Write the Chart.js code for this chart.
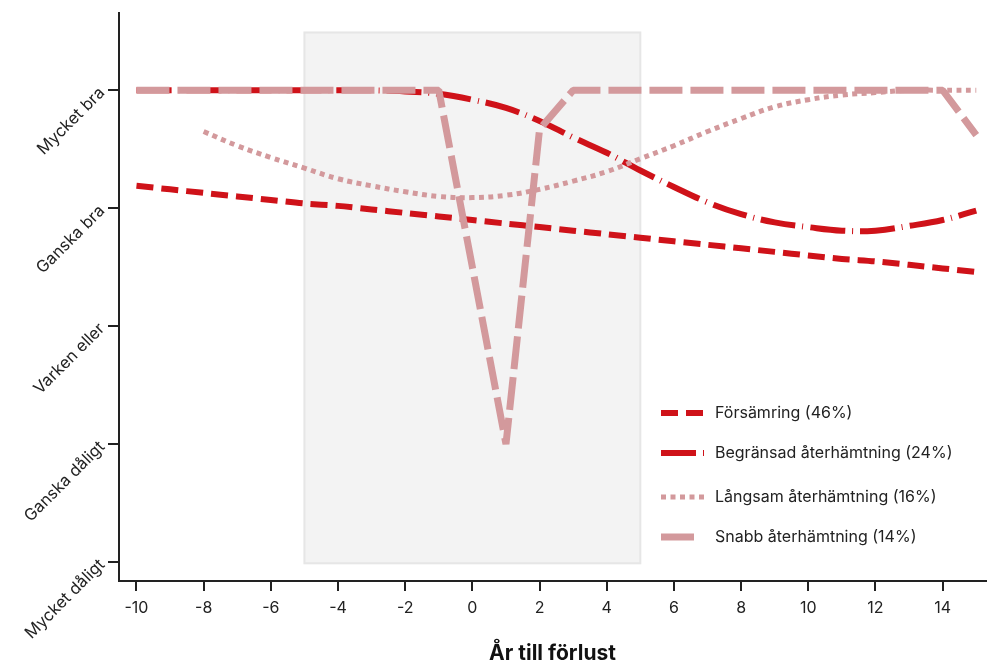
<!DOCTYPE html>
<html>
<head>
<meta charset="utf-8">
<script src="https://cdn.jsdelivr.net/npm/chart.js@4.4.1/dist/chart.umd.min.js"></script>
<style>
  body { margin: 0; background: #fff; }
  #wrap { width: 988px; height: 666px; }
</style>
</head>
<body>
<div id="wrap"><canvas id="c" width="988" height="666"></canvas></div>
<script>
  // År relativt förlusten
  const years = [-10,-9,-8,-7,-6,-5,-4,-3,-2,-1,0,1,2,3,4,5,6,7,8,9,10,11,12,13,14,15];

  const forsamring = [4.19,4.16,4.13,4.10,4.07,4.04,4.02,3.99,3.96,3.93,3.90,3.87,3.84,3.81,3.78,3.75,3.72,3.69,3.66,3.63,3.60,3.57,3.55,3.52,3.49,3.46];
  const begransad  = [5.00,5.00,5.00,5.00,5.00,5.00,5.00,5.00,4.99,4.97,4.92,4.85,4.74,4.60,4.47,4.32,4.18,4.05,3.95,3.88,3.84,3.81,3.81,3.85,3.90,3.98];
  const langsam    = [null,null,4.65,4.53,4.43,4.34,4.25,4.19,4.14,4.10,4.09,4.11,4.16,4.23,4.31,4.42,4.53,4.65,4.76,4.86,4.92,4.96,4.98,5.00,5.00,5.00];
  const snabb      = [5.00,5.00,5.00,5.00,5.00,5.00,5.00,5.00,5.00,5.00,3.50,2.00,4.67,5.00,5.00,5.00,5.00,5.00,5.00,5.00,5.00,5.00,5.00,5.00,5.00,4.62];

  const seriesNames = ['Försämring (46%)','Begränsad återhämtning (24%)','Långsam återhämtning (16%)','Snabb återhämtning (14%)'];

  const xTicks = [-10,-8,-6,-4,-2,0,2,4,6,8,10,12,14];
  const yTicks = [1,2,3,4,5];
  const yLabels = ['Mycket dåligt','Ganska dåligt','Varken eller','Ganska bra','Mycket bra'];

  const shadeYears = [-5, 5];

  const RED  = '#cf1219';
  const PINK = '#d3999c';
  const FONT = 'Inter, "Noto Sans", sans-serif';

  const pts = arr => years.map((x, i) => ({ x, y: arr[i] }));

  const shadePlugin = {
    id: 'shade',
    beforeDatasetsDraw(chart) {
      const { ctx, scales: { x, y } } = chart;
      const l = x.getPixelForValue(shadeYears[0]);
      const r = x.getPixelForValue(shadeYears[1]);
      const t = y.getPixelForValue(5.49);
      const b = y.getPixelForValue(0.99);
      ctx.save();
      ctx.fillStyle = '#f3f3f3';
      ctx.fillRect(l, t, r - l, b - t);
      ctx.strokeStyle = '#e6e6e6';
      ctx.lineWidth = 2;
      ctx.strokeRect(l, t, r - l, b - t);
      ctx.restore();
    }
  };

  // egen legend inne i diagrammet
  const legendPlugin = {
    id: 'inLegend',
    afterDraw(chart) {
      const ctx = chart.ctx;
      const rows = [413, 453, 497, 537];
      ctx.save();
      chart.data.datasets.forEach((ds, i) => {
        const y = rows[i];
        ctx.beginPath();
        ctx.strokeStyle = ds.borderColor;
        ctx.lineWidth = ds.borderWidth;
        ctx.setLineDash(ds.borderDash || []);
        ctx.moveTo(661, y);
        ctx.lineTo(i === 3 ? 696 : 704, y);
        ctx.stroke();
        ctx.setLineDash([]);
        ctx.fillStyle = '#222';
        ctx.font = '16px ' + FONT;
        ctx.textBaseline = 'middle';
        ctx.fillText(ds.label, 715, y);
      });
      ctx.restore();
    }
  };

  new Chart(document.getElementById('c'), {
    type: 'line',
    data: {
      datasets: [
        { label: seriesNames[0], data: pts(forsamring), borderColor: RED,  borderWidth: 6, borderDash: [17, 8], tension: 0.3, order: 3 },
        { label: seriesNames[1], data: pts(begransad),  borderColor: RED,  borderWidth: 6, borderDash: [35, 7, 1, 7], tension: 0.4, order: 2 },
        { label: seriesNames[2], data: pts(langsam),    borderColor: PINK, borderWidth: 5, borderDash: [5, 4.5], tension: 0.4, order: 1 },
        { label: seriesNames[3], data: pts(snabb),      borderColor: PINK, borderWidth: 7, borderDash: [33, 8], tension: 0, borderJoinStyle: 'bevel', order: 0 }
      ]
    },
    options: {
      responsive: false,
      animation: false,
      events: [],
      layout: { padding: { top: 13, right: 2, left: 0, bottom: 0 } },
      elements: { point: { radius: 0 } },
      plugins: { legend: { display: false }, tooltip: { enabled: false } },
      scales: {
        x: {
          type: 'linear',
          min: -10.52, max: 15.29,
          afterBuildTicks: s => { s.ticks = xTicks.map(v => ({ value: v })); },
          afterFit: s => { s.height = 85; },
          grid: { drawOnChartArea: false, color: '#222', lineWidth: 2, tickLength: 10 },
          border: { color: '#222', width: 2 },
          ticks: { color: '#222', padding: 8, font: { family: FONT, size: 16 }, maxRotation: 0 },
          title: { display: true, text: 'År till förlust', color: '#111', padding: 0, font: { family: FONT, size: 21, weight: 'bold' } }
        },
        y: {
          min: 0.84, max: 5.655,
          afterBuildTicks: s => { s.ticks = yTicks.map(v => ({ value: v })); },
          afterFit: s => { s.width = 119; s.paddingTop = 0; s.paddingBottom = 0; },
          grid: { drawOnChartArea: false, color: '#222', lineWidth: 2, tickLength: 11 },
          border: { color: '#222', width: 2 },
          ticks: {
            color: '#222', padding: 6, minRotation: 45, maxRotation: 45,
            font: { family: FONT, size: 16.5 },
            callback: v => yLabels[yTicks.indexOf(v)]
          }
        }
      }
    },
    plugins: [shadePlugin, legendPlugin]
  });
</script>
</body>
</html>
